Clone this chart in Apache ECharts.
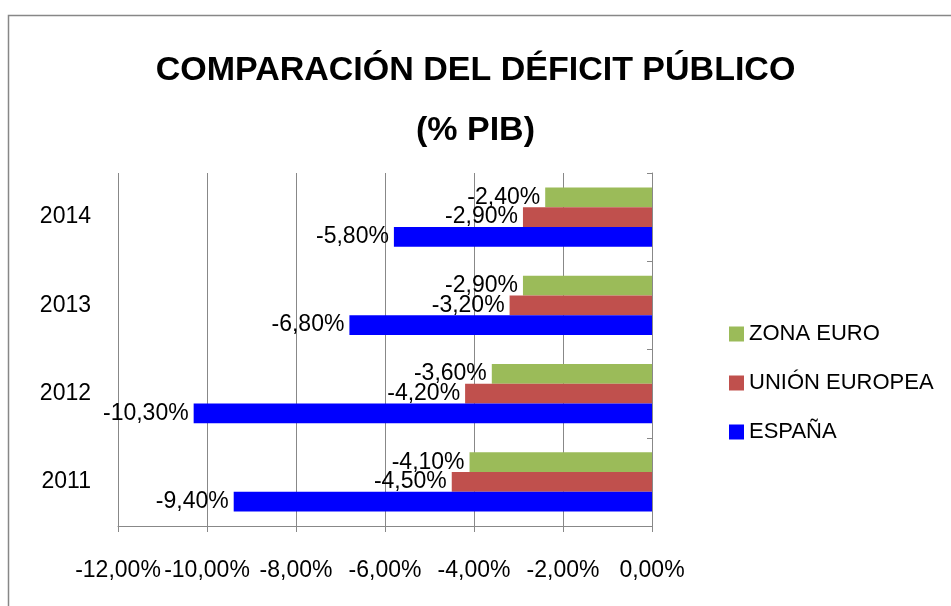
<!DOCTYPE html>
<html>
<head>
<meta charset="utf-8">
<script src="https://cdn.jsdelivr.net/npm/echarts@6/dist/echarts.min.js"></script>
<style>
  html, body { margin: 0; padding: 0; background: #fff; }
  #chart { width: 951px; height: 606px; }
</style>
</head>
<body>
<div id="chart"></div>
<script>
// datos (% del PIB)
var years = ['2011', '2012', '2013', '2014'];
var espana = [-9.4, -10.3, -6.8, -5.8];
var unionEuropea = [-4.5, -4.2, -3.2, -2.9];
var zonaEuro = [-4.1, -3.6, -2.9, -2.4];
var legendOrder = ['ZONA EURO', 'UNIÓN EUROPEA', 'ESPAÑA'];

var FONT = '"Liberation Sans", Arial, sans-serif';

function pct(v) {
  return v.toFixed(2).replace('.', ',') + '%';
}

function barSerie(name, data, color) {
  return {
    name: name,
    type: 'bar',
    data: data,
    barGap: 0,
    barCategoryGap: '33%',
    itemStyle: { color: color },
    label: {
      show: true,
      position: 'left',
      distance: 5,
      color: '#000',
      fontFamily: FONT,
      fontSize: 23,
      formatter: function (p) { return pct(p.value); }
    }
  };
}

var chart = echarts.init(document.getElementById('chart'));

var option = {
  backgroundColor: '#fff',
  animation: false,
  title: {
    text: 'COMPARACIÓN DEL DÉFICIT PÚBLICO\n(% PIB)',
    left: 'center',
    top: 36,
    textStyle: {
      fontFamily: FONT,
      fontSize: 34,
      fontWeight: 'bold',
      color: '#000',
      lineHeight: 60
    }
  },
  legend: {
    orient: 'vertical',
    left: 724,
    top: 318,
    itemWidth: 15,
    itemHeight: 15,
    itemGap: 27,
    icon: 'rect',
    data: legendOrder,
    textStyle: { fontFamily: FONT, fontSize: 22, color: '#000' }
  },
  grid: {
    left: 118,
    right: 299,
    top: 173,
    bottom: 80
  },
  xAxis: {
    type: 'value',
    min: -12,
    max: 0,
    interval: 2,
    axisLine: { show: true, onZero: false, lineStyle: { color: '#888', width: 1 } },
    axisTick: { show: true, length: 6, lineStyle: { color: '#888' } },
    splitLine: { show: true, lineStyle: { color: '#888', width: 1 } },
    axisLabel: {
      margin: 33,
      color: '#000',
      fontFamily: FONT,
      fontSize: 23,
      formatter: function (v) { return pct(v); }
    }
  },
  yAxis: [
    {
      type: 'category',
      data: years,
      position: 'left',
      axisLine: { show: false, onZero: false },
      axisTick: { show: false },
      axisLabel: {
        margin: 27,
        color: '#000',
        fontFamily: FONT,
        fontSize: 23
      }
    },
    {
      type: 'category',
      data: years,
      position: 'right',
      axisLine: { show: true, onZero: false, lineStyle: { color: '#888' } },
      axisTick: { show: true, inside: true, length: 5, lineStyle: { color: '#888' } },
      axisLabel: { show: false }
    }
  ],
  // la primera serie queda arriba dentro de cada grupo
  series: [
    barSerie('ZONA EURO', zonaEuro, '#9BBB59'),
    barSerie('UNIÓN EUROPEA', unionEuropea, '#C0504D'),
    barSerie('ESPAÑA', espana, '#0000FF')
  ],
  graphic: [
    {
      type: 'polyline',
      shape: { points: [[8.5, 606], [8.5, 15.5], [951, 15.5]] },
      style: { stroke: '#878787', lineWidth: 1.5, fill: null }
    }
  ]
};

chart.setOption(option);
</script>
</body>
</html>
